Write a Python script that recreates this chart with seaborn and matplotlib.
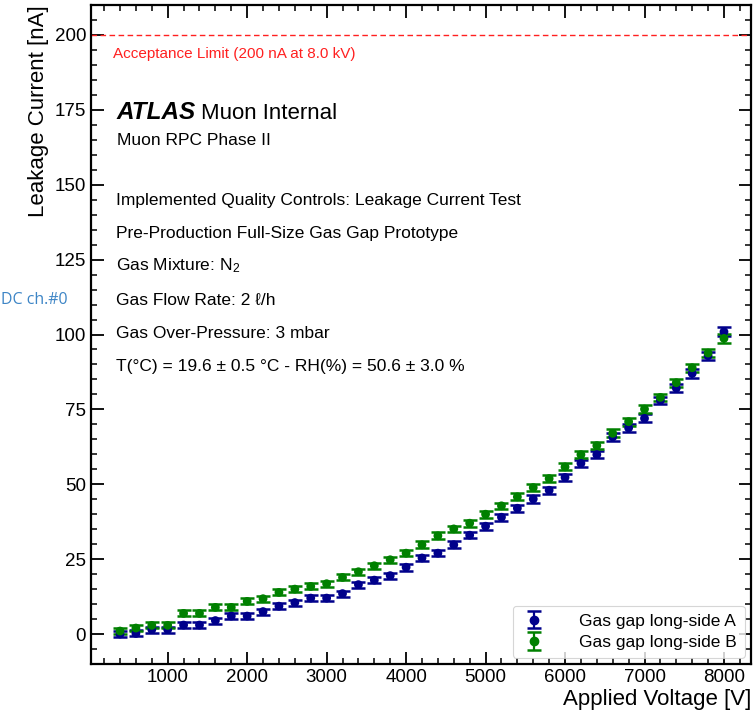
import numpy as np
import pandas as pd
import matplotlib
matplotlib.use("Agg")
import matplotlib.pyplot as plt
from matplotlib.ticker import MultipleLocator
from matplotlib.lines import Line2D
import seaborn as sns

# Applied high voltage steps [V]
voltage = [400, 600, 800, 1000, 1200, 1400, 1600, 1800, 2000, 2200,
           2400, 2600, 2800, 3000, 3200, 3400, 3600, 3800, 4000, 4200,
           4400, 4600, 4800, 5000, 5200, 5400, 5600, 5800, 6000, 6200,
           6400, 6600, 6800, 7000, 7200, 7400, 7600, 7800, 8000]

# Leakage current of gas gap long-side A [nA]
current_a = [0.0, 0.2, 1.5, 1.5, 3.0, 3.0, 4.5, 6.0, 6.0, 7.5,
             9.3, 10.5, 12.0, 12.0, 13.5, 16.5, 18.0, 19.5, 22.3, 25.4,
             27.0, 29.8, 33.0, 36.0, 39.0, 42.0, 45.1, 48.0, 52.3, 57.0,
             59.9, 65.8, 68.8, 72.0, 78.0, 82.1, 87.0, 92.9, 100.9]

# Leakage current of gas gap long-side B [nA]
current_b = [1.0, 2.0, 2.9, 2.9, 6.9, 6.9, 8.9, 8.9, 10.9, 11.8,
             13.9, 15.0, 15.9, 16.8, 18.9, 20.8, 22.8, 24.8, 27.0, 29.8,
             32.8, 35.1, 37.0, 40.0, 42.8, 45.8, 48.9, 51.9, 55.8, 59.9,
             62.9, 67.0, 70.9, 75.1, 79.0, 83.9, 88.9, 93.8, 98.7]

# Measurement uncertainty [nA]
err_a = [1.0, 1.0, 1.0, 1.0, 1.0, 1.0, 1.0, 1.0, 1.0, 1.0,
         1.0, 1.0, 1.0, 1.0, 1.0, 1.0, 1.0, 1.0, 1.1, 1.1,
         1.1, 1.1, 1.1, 1.1, 1.1, 1.2, 1.2, 1.2, 1.2, 1.2,
         1.2, 1.3, 1.3, 1.3, 1.3, 1.4, 1.4, 1.4, 1.5]
err_b = err_a

labels = ["Gas gap long-side A", "Gas gap long-side B"]
colors = ["#00008B", "#008000"]

acceptance_limit = 200.0

sns.set_theme(style="ticks")
plt.rcParams["font.family"] = ["Liberation Sans", "DejaVu Sans"]
plt.rcParams["mathtext.fontset"] = "custom"
plt.rcParams["mathtext.rm"] = "Liberation Sans"
plt.rcParams["mathtext.it"] = "Liberation Sans:italic"
plt.rcParams["text.color"] = "black"
plt.rcParams["axes.labelcolor"] = "black"
plt.rcParams["xtick.color"] = "black"
plt.rcParams["ytick.color"] = "black"

df = pd.DataFrame({
    "voltage": voltage * 2,
    "current": current_a + current_b,
    "err": err_a + err_b,
    "gap": [labels[0]] * len(voltage) + [labels[1]] * len(voltage),
})

fig = plt.figure(figsize=(7.54, 7.19), dpi=100)
ax = fig.add_axes([91 / 754, 55 / 719, 660 / 754, 659 / 719])

handles = []
for lab, col in zip(labels, colors):
    sub = df[df["gap"] == lab]
    eb = ax.errorbar(sub["voltage"], sub["current"], yerr=sub["err"],
                     fmt="none", ecolor=col, elinewidth=1.6, capsize=5,
                     capthick=1.8, zorder=3)
    handles.append((eb, Line2D([], [], marker="o", ls="none", color=col,
                               markersize=6)))
sns.scatterplot(data=df, x="voltage", y="current", hue="gap",
                palette=dict(zip(labels, colors)), s=40, edgecolor="none",
                legend=False, ax=ax, zorder=4)

# Acceptance limit
ax.axhline(acceptance_limit, color="#ff2020", lw=1.0, ls=(0, (4, 2.5)), zorder=2)
ax.text(0.033, 0.919, "Acceptance Limit (200 nA at 8.0 kV)", color="#ff2020",
        fontsize=11, transform=ax.transAxes, va="baseline")

# Axes ranges and ticks
ax.set_xlim(35, 8340)
ax.set_ylim(-10, 210)
ax.xaxis.set_major_locator(MultipleLocator(1000))
ax.xaxis.set_minor_locator(MultipleLocator(200))
ax.yaxis.set_major_locator(MultipleLocator(25))
ax.yaxis.set_minor_locator(MultipleLocator(5))
ax.tick_params(which="both", direction="in", top=True, right=True,
               colors="black", labelsize=13.5)
ax.tick_params(which="major", length=9, width=1.3)
ax.tick_params(which="minor", length=4.5, width=1.1)
for sp in ax.spines.values():
    sp.set_linewidth(1.6)
    sp.set_color("black")

ax.set_xlabel("Applied Voltage [V]", fontsize=16, loc="right", labelpad=2)
ax.set_ylabel("Leakage Current [nA]", fontsize=16, loc="top", labelpad=4)

# Experiment label
ax.text(0.039, 0.827, "ATLAS", fontsize=17.5, fontweight="bold", fontstyle="italic",
        transform=ax.transAxes, va="baseline")
ax.text(0.166, 0.827, "Muon Internal", fontsize=16,
        transform=ax.transAxes, va="baseline")
ax.text(0.039, 0.787, "Muon RPC Phase II", fontsize=12.5,
        transform=ax.transAxes, va="baseline")

info_lines = [
    "Implemented Quality Controls: Leakage Current Test",
    "Pre-Production Full-Size Gas Gap Prototype",
    "Gas Mixture: N$_2$",
    "Gas Flow Rate: 2 \u2113/h",
    "Gas Over-Pressure: 3 mbar",
    "T(\u00b0C) = 19.6 \u00b1 0.5 \u00b0C - RH(%) = 50.6 \u00b1 3.0 %",
]
info_y = [0.697, 0.647, 0.597, 0.5455, 0.4954, 0.4439]
for txt, yy in zip(info_lines, info_y):
    ax.text(0.038, yy, txt, fontsize=12.5, transform=ax.transAxes,
            va="baseline")

leg = ax.legend(handles, labels, loc="lower right", fontsize=12.5,
                frameon=True, fancybox=True, borderaxespad=0.35,
                handletextpad=1.8, borderpad=0.45, labelspacing=0.35,
                handlelength=1.6)
leg.get_frame().set_edgecolor("#cccccc")
leg.get_frame().set_linewidth(0.8)

# Channel tag at the left margin
fig.text(0.001, 0.583, "DC ch.#0", color="#3d85c6", fontsize=11.5,
         family=["Open Sans", "DejaVu Sans"], va="center")

fig.savefig("out.png", dpi=100)
